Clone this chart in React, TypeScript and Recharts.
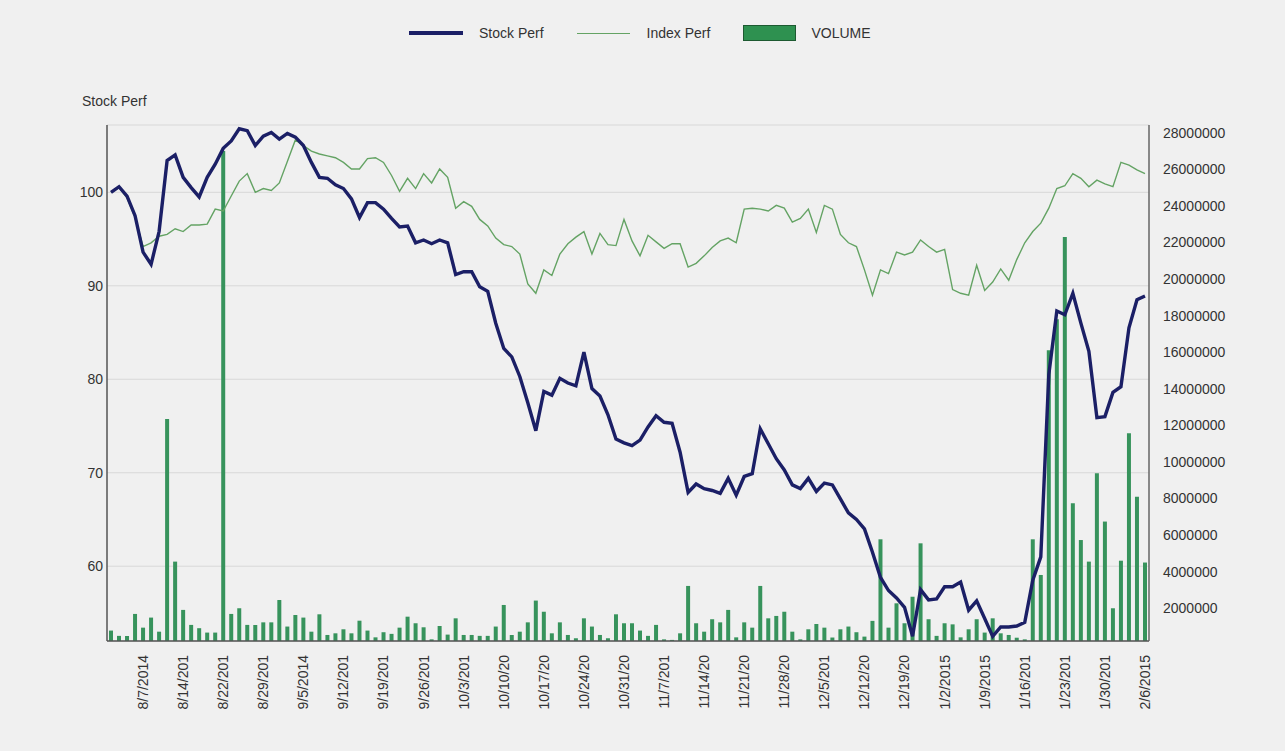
import React from 'react';
import { ComposedChart, Line, Bar, XAxis, YAxis, CartesianGrid, Legend } from 'recharts';

const dates = [
  '8/1/2014', '8/4/2014', '8/5/2014', '8/6/2014', '8/7/2014',
  '8/8/2014', '8/11/2014', '8/12/2014', '8/13/2014', '8/14/2014',
  '8/15/2014', '8/18/2014', '8/19/2014', '8/20/2014', '8/22/2014',
  '8/25/2014', '8/26/2014', '8/27/2014', '8/28/2014', '8/29/2014',
  '9/1/2014', '9/2/2014', '9/3/2014', '9/4/2014', '9/5/2014',
  '9/8/2014', '9/9/2014', '9/10/2014', '9/11/2014', '9/12/2014',
  '9/15/2014', '9/16/2014', '9/17/2014', '9/18/2014', '9/19/2014',
  '9/22/2014', '9/23/2014', '9/24/2014', '9/25/2014', '9/26/2014',
  '9/29/2014', '9/30/2014', '10/1/2014', '10/2/2014', '10/3/2014',
  '10/6/2014', '10/7/2014', '10/8/2014', '10/9/2014', '10/10/2014',
  '10/13/2014', '10/14/2014', '10/15/2014', '10/16/2014', '10/17/2014',
  '10/20/2014', '10/21/2014', '10/22/2014', '10/23/2014', '10/24/2014',
  '10/27/2014', '10/28/2014', '10/29/2014', '10/30/2014', '10/31/2014',
  '11/3/2014', '11/4/2014', '11/5/2014', '11/6/2014', '11/7/2014',
  '11/10/2014', '11/11/2014', '11/12/2014', '11/13/2014', '11/14/2014',
  '11/17/2014', '11/18/2014', '11/19/2014', '11/20/2014', '11/21/2014',
  '11/24/2014', '11/25/2014', '11/26/2014', '11/27/2014', '11/28/2014',
  '12/1/2014', '12/2/2014', '12/3/2014', '12/4/2014', '12/5/2014',
  '12/8/2014', '12/9/2014', '12/10/2014', '12/11/2014', '12/12/2014',
  '12/15/2014', '12/16/2014', '12/17/2014', '12/18/2014', '12/19/2014',
  '12/22/2014', '12/23/2014', '12/26/2014', '12/30/2014', '1/2/2015',
  '1/5/2015', '1/6/2015', '1/7/2015', '1/8/2015', '1/9/2015',
  '1/12/2015', '1/13/2015', '1/14/2015', '1/15/2015', '1/16/2015',
  '1/19/2015', '1/20/2015', '1/21/2015', '1/22/2015', '1/23/2015',
  '1/26/2015', '1/27/2015', '1/28/2015', '1/29/2015', '1/30/2015',
  '2/2/2015', '2/3/2015', '2/4/2015', '2/5/2015', '2/6/2015',
];

const labelDates = [
  '8/7/2014', '8/14/2014', '8/22/2014', '8/29/2014', '9/5/2014', '9/12/2014',
  '9/19/2014', '9/26/2014', '10/3/2014', '10/10/2014', '10/17/2014', '10/24/2014',
  '10/31/2014', '11/7/2014', '11/14/2014', '11/21/2014', '11/28/2014', '12/5/2014',
  '12/12/2014', '12/19/2014', '1/2/2015', '1/9/2015', '1/16/2015', '1/23/2015',
  '1/30/2015', '2/6/2015',
];

const stockPerf = [
  100.0, 100.6, 99.6, 97.5, 93.6, 92.3, 95.8, 103.4, 104.0, 101.6,
  100.5, 99.5, 101.6, 103.0, 104.7, 105.5, 106.8, 106.6, 105.0, 106.0,
  106.4, 105.7, 106.3, 105.9, 105.0, 103.2, 101.6, 101.5, 100.8, 100.4,
  99.3, 97.3, 98.9, 98.9, 98.2, 97.2, 96.3, 96.4, 94.6, 94.9,
  94.5, 94.9, 94.6, 91.2, 91.5, 91.5, 89.9, 89.4, 86.0, 83.3,
  82.4, 80.3, 77.5, 74.5, 78.7, 78.3, 80.1, 79.6, 79.3, 82.9,
  79.0, 78.2, 76.2, 73.6, 73.2, 72.9, 73.5, 74.9, 76.1, 75.4,
  75.3, 72.2, 67.9, 68.8, 68.3, 68.1, 67.8, 69.4, 67.6, 69.6,
  69.9, 74.7, 73.1, 71.5, 70.3, 68.7, 68.3, 69.4, 68.0, 68.9,
  68.7, 67.2, 65.7, 65.0, 64.0, 61.5, 58.8, 57.4, 56.6, 55.6,
  52.5, 57.5, 56.4, 56.5, 57.8, 57.8, 58.3, 55.3, 56.3, 54.4,
  52.5, 53.5, 53.5, 53.6, 54.0, 58.5, 61.0, 80.5, 87.3, 86.9,
  89.2, 86.0, 83.0, 75.9, 76.0, 78.6, 79.2, 85.5, 88.5, 88.9,
];

const indexPerf = [
  100.0, 100.5, 99.4, 97.3, 94.2, 94.6, 95.3, 95.5, 96.1, 95.8,
  96.5, 96.5, 96.6, 98.2, 98.0, 99.6, 101.2, 102.0, 100.0, 100.4,
  100.2, 101.0, 103.3, 105.6, 105.0, 104.4, 104.1, 103.9, 103.7, 103.2,
  102.5, 102.5, 103.6, 103.7, 103.2, 101.8, 100.1, 101.5, 100.4, 102.0,
  101.0, 102.5, 101.6, 98.3, 99.0, 98.5, 97.1, 96.4, 95.1, 94.4,
  94.2, 93.4, 90.2, 89.2, 91.7, 91.1, 93.4, 94.5, 95.2, 95.8,
  93.4, 95.6, 94.4, 94.3, 97.1, 94.8, 93.2, 95.4, 94.7, 94.0,
  94.5, 94.5, 92.0, 92.4, 93.2, 94.1, 94.8, 95.1, 94.6, 98.2,
  98.3, 98.2, 98.0, 98.6, 98.3, 96.8, 97.2, 98.2, 95.7, 98.6,
  98.2, 95.5, 94.6, 94.2, 91.7, 89.0, 91.7, 91.3, 93.6, 93.3,
  93.6, 94.9, 94.2, 93.6, 93.9, 89.6, 89.2, 89.0, 92.2, 89.5,
  90.4, 91.8, 90.6, 92.8, 94.6, 95.8, 96.7, 98.3, 100.4, 100.7,
  102.0, 101.5, 100.6, 101.3, 100.9, 100.6, 103.2, 102.9, 102.4, 102.0,
];

const volume = [
  780000, 490000, 490000, 1690000, 940000, 1490000, 720000, 12350000, 4550000, 1910000,
  1090000, 910000, 670000, 670000, 27000000, 1690000, 2000000, 1090000, 1090000, 1230000,
  1230000, 2450000, 1000000, 1630000, 1490000, 720000, 1670000, 540000, 630000, 850000,
  630000, 1320000, 780000, 410000, 690000, 600000, 940000, 1540000, 1180000, 960000,
  300000, 1030000, 560000, 1450000, 540000, 540000, 490000, 490000, 1000000, 2180000,
  540000, 720000, 1230000, 2420000, 1810000, 630000, 1230000, 540000, 360000, 1450000,
  1000000, 540000, 360000, 1670000, 1180000, 1180000, 780000, 490000, 1090000, 300000,
  270000, 630000, 3220000, 1180000, 720000, 1400000, 1230000, 1910000, 410000, 1230000,
  940000, 3220000, 1450000, 1580000, 1810000, 720000, 300000, 850000, 1140000, 940000,
  400000, 850000, 1000000, 690000, 450000, 1310000, 5770000, 940000, 2270000, 1180000,
  2630000, 5550000, 1400000, 490000, 1180000, 1120000, 410000, 850000, 1400000, 670000,
  1450000, 630000, 540000, 390000, 300000, 5770000, 3820000, 16100000, 17800000, 22300000,
  7740000, 5730000, 4550000, 9380000, 6740000, 2000000, 4600000, 11570000, 8100000, 4500000,
];

const leftTicks = [60, 70, 80, 90, 100];
const rightTicks = [
  2000000, 4000000, 6000000, 8000000, 10000000, 12000000, 14000000,
  16000000, 18000000, 20000000, 22000000, 24000000, 26000000, 28000000,
];

const data = dates.map((d, i) => ({
  date: d,
  stock: stockPerf[i],
  index: indexPerf[i],
  volume: volume[i],
}));

const FONT = '"Liberation Sans", Arial, sans-serif';
const TEXT = '#333333';
const STOCK = '#1b1f66';
const INDEX = '#64a364';
const VOL = '#37935c';

const XTick = (props: any) => {
  const { x, y, payload } = props;
  return (
    <g transform={`translate(${x},${y})`}>
      <text
        transform="rotate(-90)"
        textAnchor="end"
        dy="0.35em"
        fill={TEXT}
        fontSize={14}
        fontFamily={FONT}
      >
        {String(payload.value).slice(0, 8)}
      </text>
    </g>
  );
};

const renderLegend = () => (
  <div
    style={{
      display: 'flex',
      alignItems: 'center',
      fontFamily: FONT,
      fontSize: 14,
      color: TEXT,
      height: 20,
      whiteSpace: 'nowrap',
    }}
  >
    <span style={{ display: 'inline-block', width: 54, height: 0, borderTop: `4px solid ${STOCK}`, marginRight: 16 }} />
    <span style={{ marginRight: 33 }}>Stock Perf</span>
    <span style={{ display: 'inline-block', width: 53, height: 0, borderTop: `1.5px solid ${INDEX}`, marginRight: 17 }} />
    <span style={{ marginRight: 33 }}>Index Perf</span>
    <span style={{ display: 'inline-block', width: 51, height: 14, background: '#2e9150', border: '1px solid #1d5a31', marginRight: 15 }} />
    <span>VOLUME</span>
  </div>
);

const StockLabel = (props: any) => {
  const vb = props.viewBox || {};
  return (
    <text
      x={vb.x + vb.width - 25}
      y={vb.y - 19}
      fill={TEXT}
      fontSize={14}
      fontFamily={FONT}
    >
      Stock Perf
    </text>
  );
};

export default function App() {
  return (
    <div
      style={{
        position: 'absolute',
        left: 0,
        top: 0,
        width: 1285,
        height: 751,
        background: '#f0f0f0',
      }}
    >
      <ComposedChart
        width={1285}
        height={751}
        data={data}
        margin={{ top: 125, right: 36, bottom: 30, left: 7 }}
      >
        <CartesianGrid yAxisId="left" vertical={false} stroke="#d8d8d8" strokeWidth={1} />
        <XAxis
          dataKey="date"
          ticks={labelDates}
          interval={0}
          height={80}
          tickLine={false}
          tickSize={0}
          tickMargin={14}
          axisLine={{ stroke: '#555555', strokeWidth: 1.5 }}
          tick={<XTick />}
        />
        <YAxis
          yAxisId="left"
          orientation="left"
          width={100}
          domain={[52, 107.2]}
          ticks={leftTicks}
          allowDataOverflow
          tickLine={false}
          tickSize={0}
          tickMargin={4}
          axisLine={{ stroke: '#555555', strokeWidth: 1.5 }}
          tick={{ fill: TEXT, fontSize: 14, fontFamily: FONT }}
          label={{ content: <StockLabel /> }}
        />
        <YAxis
          yAxisId="right"
          orientation="right"
          width={100}
          domain={[210000, 28420000]}
          ticks={rightTicks}
          allowDataOverflow
          tickLine={false}
          tickSize={0}
          tickMargin={14}
          axisLine={{ stroke: '#666666', strokeWidth: 1.5 }}
          tick={{ fill: TEXT, fontSize: 14, fontFamily: FONT }}
        />
        <Legend
          verticalAlign="middle"
          layout="horizontal"
          align="center"
          wrapperStyle={{ top: 23, left: 409, width: 500, height: 20 }}
          content={renderLegend}
        />
        <Bar
          yAxisId="right"
          dataKey="volume"
          name="VOLUME"
          barSize={4}
          fill={VOL}
          isAnimationActive={false}
        />
        <Line
          yAxisId="left"
          dataKey="index"
          name="Index Perf"
          type="linear"
          stroke={INDEX}
          strokeWidth={1.4}
          dot={false}
          activeDot={false}
          isAnimationActive={false}
        />
        <Line
          yAxisId="left"
          dataKey="stock"
          name="Stock Perf"
          type="linear"
          stroke={STOCK}
          strokeWidth={3.4}
          dot={false}
          activeDot={false}
          isAnimationActive={false}
        />
      </ComposedChart>
    </div>
  );
}
